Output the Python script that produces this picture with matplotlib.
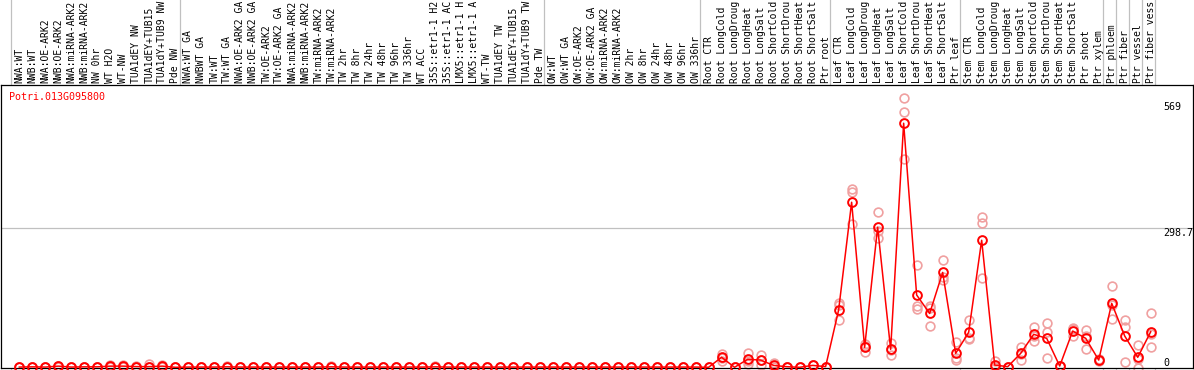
import matplotlib
matplotlib.use("Agg")
import matplotlib.pyplot as plt
from matplotlib.lines import Line2D
from matplotlib.transforms import blended_transform_factory

gene = "Potri.013G095800"

labels = [
    "NWA:WT", "NWB:WT", "NWA:OE-ARK2", "NWB:OE-ARK2", "NWA:miRNA-ARK2", "NWB:miRNA-ARK2",
    "NW 0hr", "WT H2O", "WT-NW", "TUA1dEY NW", "TUA1dEY+TUB15", "TUA1dY+TUB9 NW", "Pde NW",
    "NWA:WT GA", "NWBWT GA", "TW:WT", "TW:WT GA", "NWA:OE-ARK2 GA", "NWB:OE-ARK2 GA",
    "TW:OE-ARK2", "TW:OE-ARK2 GA", "NWA:miRNA-ARK2", "NWB:miRNA-ARK2", "TW:miRNA-ARK2",
    "TW:miRNA-ARK2", "TW 2hr", "TW 8hr", "TW 24hr", "TW 48hr", "TW 96hr", "TW 336hr",
    "WT ACC", "35S::etr1-1 H2", "35S::etr1-1 AC", "LMX5::etr1-1 H", "LMX5::etr1-1 A",
    "WT-TW", "TUA1dEY TW", "TUA1dEY+TUB15", "TUA1dY+TUB9 TW", "Pde TW",
    "OW:WT", "OW:WT GA", "OW:OE-ARK2", "OW:OE-ARK2 GA", "OW:miRNA-ARK2", "OW:miRNA-ARK2",
    "OW 2hr", "OW 8hr", "OW 24hr", "OW 48hr", "OW 96hr", "OW 336hr",
    "Root CTR", "Root LongCold", "Root LongDroug", "Root LongHeat", "Root LongSalt",
    "Root ShortCold", "Root ShortDrou", "Root ShortHeat", "Root ShortSalt", "Ptr root",
    "Leaf CTR", "Leaf LongCold", "Leaf LongDroug", "Leaf LongHeat", "Leaf LongSalt",
    "Leaf ShortCold", "Leaf ShortDrou", "Leaf ShortHeat", "Leaf ShortSalt", "Ptr leaf",
    "Stem CTR", "Stem LongCold", "Stem LongDroug", "Stem LongHeat", "Stem LongSalt",
    "Stem ShortCold", "Stem ShortDrou", "Stem ShortHeat", "Stem ShortSalt", "Ptr shoot",
    "Ptr xylem", "Ptr phloem", "Ptr fiber", "Ptr vessel", "Ptr fiber vess",
]

means = [
    1, 1.5, 1, 3, 1, 1.5, 1.5, 3, 3, 2, 2, 3, 0.5,
    1, 1, 1, 1.5, 1, 1, 1, 1, 1, 1, 1, 1.5, 1, 1, 1, 1, 1, 1,
    1, 1.5, 1, 1, 1, 1, 1, 1, 1, 1,
    1, 1, 1, 1, 1, 1, 1, 1, 1, 1, 1, 1,
    0.5, 22, 0.5, 17.6, 16, 4.6, 1.8, 0.5, 4.6, 2,
    123.4, 354.5, 43.3, 300.8, 39, 524, 155.6, 116, 204, 30.4,
    75.5, 273, 5.4, 1.8, 30.4, 71.2, 62.6, 3.2, 78.3, 62.6,
    16, 137.7, 67.6, 21.9, 76.8,
]

replicates = [
    [1, 1, 1], [1.5, 2, 1], [1, 1, 1], [3, 4, 2], [1, 1, 1], [1.5, 2, 1], [1.5, 2, 1],
    [3, 5, 2], [3, 5, 2], [2, 3, 1], [2, 2, 8], [3, 5, 2], [0.5, 0.5, 0.5],
    [1, 1, 1], [1, 1, 1], [1, 1, 1], [1.5, 3, 1], [1, 1, 1], [1, 1, 1], [1, 1, 1],
    [1, 1, 1], [1, 1, 1], [1, 1, 1], [1, 1, 1], [1.5, 3, 1], [1, 1, 1], [1, 1, 1],
    [1, 1, 1], [1, 1, 1], [1, 1, 1], [1, 1, 1], [1, 1, 1], [1.5, 3, 1], [1, 1, 1],
    [1, 1, 1], [1, 1, 1], [1, 1, 1], [1, 1, 1], [1, 1, 1], [1, 1, 1], [1, 1, 1],
    [1, 1, 1], [1, 1, 1], [1, 1, 1], [1, 1, 1], [1, 1, 1], [1, 1, 1], [1, 1, 1],
    [1, 1, 1], [1, 1, 1], [1, 1, 1], [1, 1, 1], [1, 1, 1],
    [0.5, 0.5, 0.5], [30, 14.6, 21], [0.5, 0.5, 0.5], [31.8, 6.8, 14], [26, 6, 16],
    [10, 2, 2], [1.8, 1.8, 1.8], [0.5, 0.5, 0.5], [4.6, 4.6, 4.6], [2, 2, 2],
    [137.7, 134, 103], [382, 376, 308], [50, 34, 46], [333, 293.6, 277], [53, 26.8, 37],
    [577.7, 549, 447], [220, 132, 125], [132, 89, 127], [230, 194, 188], [55, 16, 20],
    [102, 62.6, 62], [323, 309, 191], [14.6, 1, 1], [1, 2, 2], [44.7, 30, 16],
    [87.6, 57.5, 68], [94.8, 75.5, 19.7], [3, 3, 3], [85.4, 68, 82], [80.5, 39.7, 67],
    [19, 13, 16], [175, 103.4, 135], [102, 87.6, 12.5], [48, 0, 18], [116, 43.3, 71],
]

group_starts = [0, 13, 41, 53, 63, 73, 84, 85, 86, 87, 88]
scale_labels = ["569", "298.7", "0"]
scale_values = [569, 298.7, 0]

mono = "DejaVu Sans Mono"
W, H = 1194, 370
fig = plt.figure(figsize=(W / 100, H / 100), dpi=100)
ax = fig.add_axes([1 / W, 2 / H, 1192 / W, 283 / H])

x = list(range(len(labels)))
ax.set_xlim(-1.408, 90.25)
ax.set_ylim(-1, 606)

# horizontal grid line
ax.axhline(298.7, color="#c0c0c0", lw=0.9, zorder=0)

# vertical group separators spanning entire figure
trans = blended_transform_factory(ax.transData, fig.transFigure)
for g in group_starts:
    ln = Line2D([g - 0.65, g - 0.65], [0, 1], transform=trans, color="#c0c0c0",
                lw=0.9, clip_on=False, zorder=0)
    fig.add_artist(ln)

# replicates
for i, reps in enumerate(replicates):
    ax.plot([i] * len(reps), reps, linestyle="none", marker="o", ms=6.3,
            mfc="none", mec="#f0a0a0", mew=1.2, zorder=2, clip_on=False)

# mean line
ax.plot(x, means, color="#ff0000", lw=1.1, marker="o", ms=6.3, mfc="none",
        mec="#ff0000", mew=1.4, zorder=3, clip_on=False)

# scale labels on the right
for t, v in zip(scale_labels, scale_values):
    ax.text(88.0, v, t, family=mono, fontsize=7.2, color="black", ha="left",
            va="bottom" if v == 0 else "top")

# gene name
fig.text(9 / W, 1 - 97 / H, gene, family=mono, fontsize=7.2, color="#ff0000",
         ha="left", va="center")

ax.set_xticks(x)
ax.set_xticklabels(labels, rotation=90, family=mono, fontsize=7.0)
ax.xaxis.tick_top()
ax.tick_params(axis="x", length=0, pad=1.4)
ax.set_yticks([])
for s in ax.spines.values():
    s.set_color("black")
    s.set_linewidth(0.9)

fig.savefig("out.png", dpi=100)
